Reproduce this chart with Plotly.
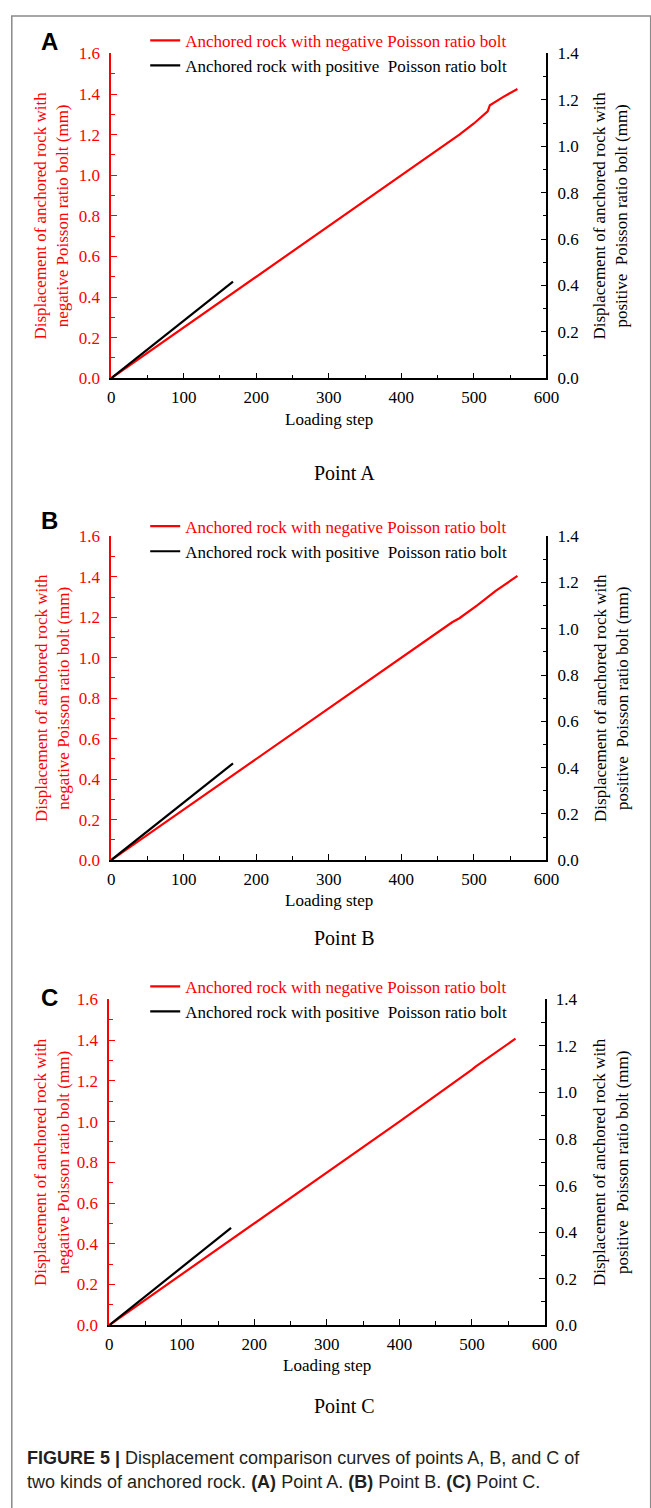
import plotly.graph_objects as go

W, H = 651, 1508

# ---------------- data ----------------
steps_neg_A = [0, 100, 200, 300, 400, 460, 480, 500, 519, 522, 540, 560]
disp_neg_A = [0, 0.25, 0.50, 0.75, 1.00, 1.15, 1.20, 1.255, 1.315, 1.345, 1.385, 1.425]
steps_pos_A = [0, 50, 100, 168]
disp_pos_A = [0, 0.125, 0.25, 0.417]

steps_neg_B = [0, 100, 200, 300, 400, 460, 470, 480, 500, 505, 530, 560]
disp_neg_B = [0, 0.25, 0.50, 0.75, 1.00, 1.15, 1.175, 1.195, 1.245, 1.26, 1.33, 1.404]
steps_pos_B = [0, 50, 100, 168]
disp_pos_B = [0, 0.125, 0.25, 0.418]

steps_neg_C = [0, 100, 200, 300, 400, 500, 505, 560]
disp_neg_C = [0, 0.25, 0.50, 0.75, 1.00, 1.255, 1.27, 1.407]
steps_pos_C = [0, 50, 100, 168]
disp_pos_C = [0, 0.125, 0.25, 0.418]

x_ticks = [0, 100, 200, 300, 400, 500, 600]
left_ticks = [0.0, 0.2, 0.4, 0.6, 0.8, 1.0, 1.2, 1.4, 1.6]
right_ticks = [0.0, 0.2, 0.4, 0.6, 0.8, 1.0, 1.2, 1.4]

neg_name = "Anchored rock with negative Poisson ratio bolt"
pos_name = "Anchored rock with positive\u00a0 Poisson ratio bolt"
left_title = "Displacement of anchored rock with<br>negative Poisson ratio bolt (mm)"
right_title = "Displacement of anchored rock with<br>positive\u00a0 Poisson ratio bolt (mm)"
panel_letters = ["A", "B", "C"]
point_names = ["Point A", "Point B", "Point C"]
caption1 = "<b>FIGURE 5 |</b> Displacement comparison curves of points A, B, and C of"
caption2 = "two kinds of anchored rock. <b>(A)</b> Point A. <b>(B)</b> Point B. <b>(C)</b> Point C."

RED = "#ff0000"
SERIF = "Liberation Serif"
SANS = "Liberation Sans"

# ---------------- layout geometry (pixels) ----------------
panels = [
    dict(x0=110, x1=557, top=45, bottom=374, leg=14, letter_y=33, xlab=416, point=470),
    dict(x0=110, x1=557, top=534, bottom=862, leg=506, letter_y=518, xlab=903, point=941),
    dict(x0=108, x1=555, top=1003, bottom=1333, leg=972, letter_y=1001, xlab=1374, point=1415),
]

def px(x):
    return x / W

def py(y):
    return 1 - y / H

data_sets = [
    (steps_neg_A, disp_neg_A, steps_pos_A, disp_pos_A),
    (steps_neg_B, disp_neg_B, steps_pos_B, disp_pos_B),
    (steps_neg_C, disp_neg_C, steps_pos_C, disp_pos_C),
]

fig = go.Figure()
annotations = []
layout = {}

for i, (p, d) in enumerate(zip(panels, data_sets)):
    xa = "x" if i == 0 else f"x{i+1}"
    yl = "y" if i == 0 else f"y{2*i+1}"
    yr = f"y{2*i+2}"
    leg = "legend" if i == 0 else f"legend{i+1}"
    sn, vn, sp, vp = d
    fig.add_trace(go.Scatter(x=sn, y=vn, mode="lines", name=f"<span style='color:{RED}'>{neg_name}</span>",
                             line=dict(color=RED, width=2.2), xaxis=xa, yaxis=yl, legend=leg))
    fig.add_trace(go.Scatter(x=sp, y=vp, mode="lines", name=pos_name,
                             line=dict(color="black", width=2.2), xaxis=xa, yaxis=yr, legend=leg))

    xkey = "xaxis" if i == 0 else f"xaxis{i+1}"
    ylkey = "yaxis" if i == 0 else f"yaxis{2*i+1}"
    yrkey = f"yaxis{2*i+2}"
    dom_x = [px(p["x0"]), px(p["x1"])]
    dom_y = [py(p["bottom"]), py(p["top"])]
    layout[xkey] = dict(domain=dom_x, anchor=yl, range=[0, 600], tickvals=x_ticks,
                        showline=True, linecolor="black", linewidth=1.5,
                        ticks="inside", ticklen=6, tickwidth=1.2, tickcolor="black",
                        minor=dict(dtick=50, ticks="inside", ticklen=4, tickwidth=1.2, tickcolor="black"),
                        showgrid=False, zeroline=False, ticklabelstandoff=3,
                        tickfont=dict(family=SERIF, size=17, color="black"))
    layout[ylkey] = dict(domain=dom_y, anchor=xa, range=[0, 1.6], tickvals=left_ticks, tickformat=".1f",
                         showline=True, linecolor=RED, linewidth=1.5,
                         ticks="inside", ticklen=6, tickwidth=1.2, tickcolor=RED,
                         minor=dict(dtick=0.1, ticks="inside", ticklen=4, tickwidth=1.2, tickcolor=RED),
                         showgrid=False, zeroline=False, ticklabelstandoff=6,
                         tickfont=dict(family=SERIF, size=17, color=RED))
    layout[yrkey] = dict(domain=dom_y, anchor=xa, overlaying=yl, side="right", range=[0, 1.4],
                         tickvals=right_ticks, tickformat=".1f",
                         showline=True, linecolor="black", linewidth=1.5,
                         ticks="inside", ticklen=6, tickwidth=1.2, tickcolor="black",
                         minor=dict(dtick=0.1, ticks="inside", ticklen=4, tickwidth=1.2, tickcolor="black"),
                         showgrid=False, zeroline=False, ticklabelstandoff=6,
                         tickfont=dict(family=SERIF, size=17, color="black"))
    layout[leg] = dict(x=px(145), y=py(p["leg"]), xanchor="left", yanchor="top",
                       bgcolor="rgba(0,0,0,0)", borderwidth=0, tracegroupgap=0,
                       font=dict(family=SERIF, size=17, color="black"))

    mid = (p["top"] + p["bottom"]) / 2
    annotations.append(dict(text=left_title, x=px(49), y=py(mid), xref="paper", yref="paper",
                            showarrow=False, textangle=-90, xanchor="center", yanchor="middle",
                            font=dict(family=SERIF, size=17, color=RED)))
    annotations.append(dict(text=right_title, x=px(623), y=py(mid), xref="paper", yref="paper",
                            showarrow=False, textangle=-90, xanchor="center", yanchor="middle",
                            font=dict(family=SERIF, size=17, color="black")))
    annotations.append(dict(text="Loading step", x=px((p["x0"] + p["x1"]) / 2), y=py(p["xlab"]),
                            xref="paper", yref="paper", showarrow=False, xanchor="center", yanchor="middle",
                            font=dict(family=SERIF, size=17, color="black")))
    annotations.append(dict(text=point_names[i], x=px(350), y=py(p["point"]),
                            xref="paper", yref="paper", showarrow=False, xanchor="center", yanchor="middle",
                            font=dict(family=SERIF, size=20, color="black")))
    annotations.append(dict(text=f"<b>{panel_letters[i]}</b>", x=px(47), y=py(p["letter_y"]),
                            xref="paper", yref="paper", showarrow=False, xanchor="center", yanchor="middle",
                            font=dict(family=SANS, size=24, color="black")))

annotations.append(dict(text=caption1, x=px(22), y=py(1467), xref="paper", yref="paper", showarrow=False,
                        xanchor="left", yanchor="middle", font=dict(family=SANS, size=18, color="#231f20")))
annotations.append(dict(text=caption2, x=px(22), y=py(1492), xref="paper", yref="paper", showarrow=False,
                        xanchor="left", yanchor="middle", font=dict(family=SANS, size=18, color="#231f20")))

fig.update_layout(
    width=W, height=H,
    margin=dict(l=0, r=0, t=0, b=0),
    paper_bgcolor="white", plot_bgcolor="white",
    showlegend=True,
    annotations=annotations,
    shapes=[dict(type="rect", xref="paper", yref="paper", x0=px(8), x1=1.02, y0=-0.02, y1=py(7),
                 line=dict(color="#8a8a8a", width=1.5), fillcolor="rgba(0,0,0,0)", layer="below")],
    **layout,
)

fig.write_html("out.html")
